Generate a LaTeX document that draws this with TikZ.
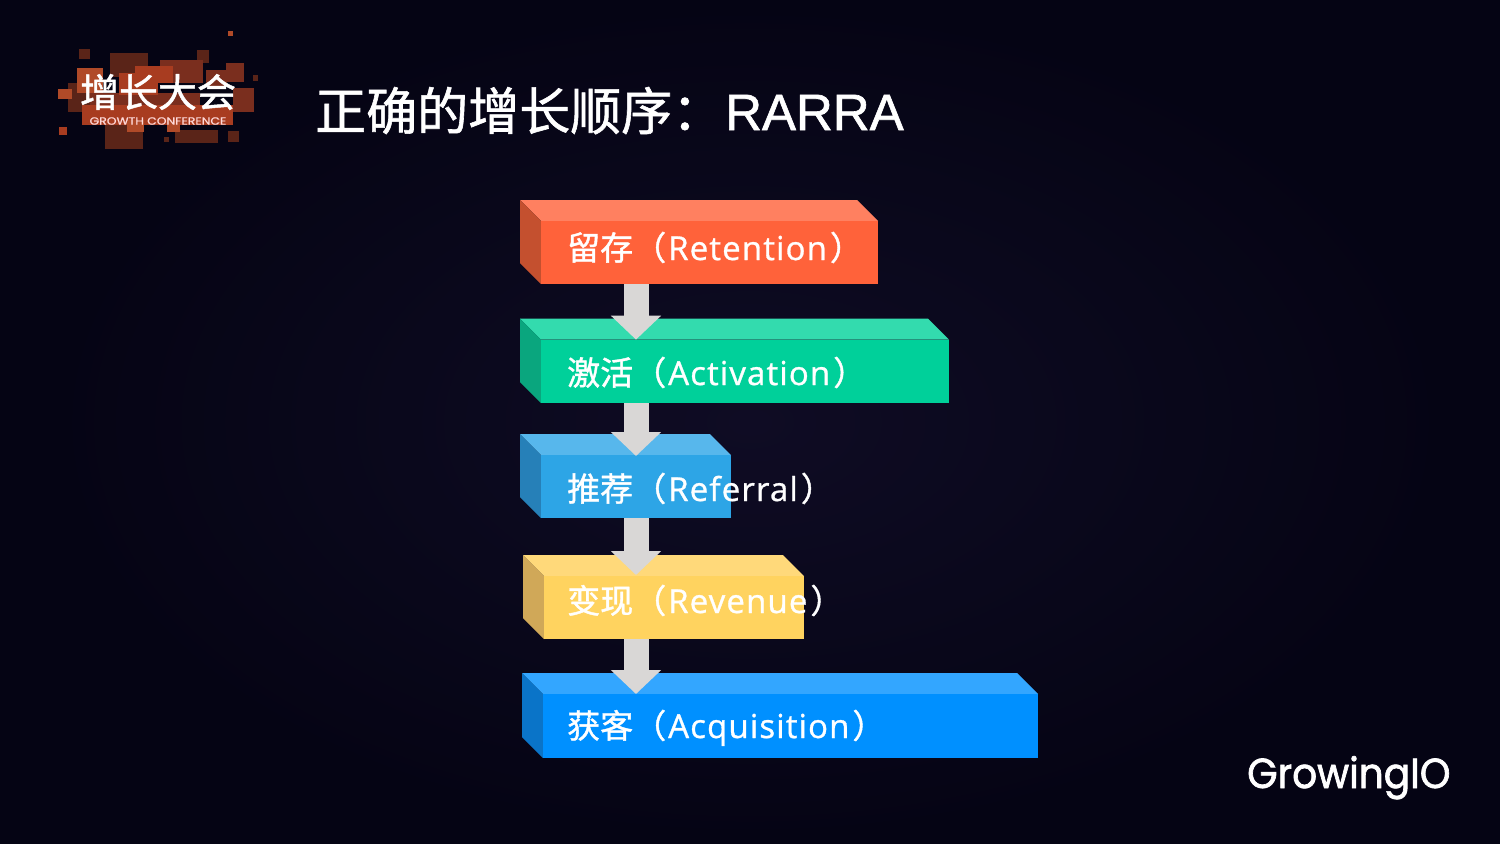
\documentclass[tikz,border=0pt]{standalone}
\usepackage{fontspec}
\setmainfont{Noto Sans CJK SC}
\newfontfamily\cjkmed[FakeBold=1.2]{Noto Sans CJK SC}
\newfontfamily\latinlabel[FakeBold=0.9,LetterSpace=3.5]{Open Sans}
\newfontfamily\latintitle[FakeBold=1.2]{Liberation Sans}
\newfontfamily\brandfont[FakeBold=1.6,FakeStretch=0.93]{Poppins}
\newfontfamily\logofont[FakeBold=1,FakeStretch=1.18]{Poppins}
\newcommand{\steplabel}[2]{{\cjkmed #1（}\hspace{2pt}{\latinlabel #2}\hspace{3pt}{\cjkmed ）}}
\usetikzlibrary{arrows.meta}
\definecolor{bgout}{HTML}{050414}
\definecolor{bgin}{HTML}{0F0C24}
\definecolor{arrowgrey}{HTML}{D9D7D6}
\definecolor{fa}{HTML}{FF623A}\definecolor{ta}{HTML}{FF8060}\definecolor{sa}{HTML}{C4502F}
\definecolor{fb}{HTML}{00D09A}\definecolor{tb}{HTML}{33DBAE}\definecolor{sb}{HTML}{0AA67E}
\definecolor{fc}{HTML}{2DA5E6}\definecolor{tc}{HTML}{57B7EC}\definecolor{sc}{HTML}{2680B8}
\definecolor{fd}{HTML}{FFD35F}\definecolor{td}{HTML}{FFD97A}\definecolor{sd}{HTML}{D0A858}
\definecolor{fe}{HTML}{0090FF}\definecolor{te}{HTML}{33A6FF}\definecolor{se}{HTML}{0A74C8}
\definecolor{la}{HTML}{B04A28}\definecolor{lb}{HTML}{5A2418}\definecolor{lc}{HTML}{7A2E1E}\definecolor{ld}{HTML}{A83C20}
\tikzset{
  face/.style={anchor=north west,inner sep=0pt,outer sep=0pt},
  label/.style={anchor=base west,inner sep=0pt,text=white,font=\fontsize{33}{33}\selectfont},
  flow/.style={draw=arrowgrey,line width=25pt,-{Triangle[width=49pt,length=24pt,fill=arrowgrey]}},
}
% name, x0, y0, x1, y1, face, top, side
\newcommand{\stepblock}[8]{%
  \fill[#7] (#2,#3) -- (#4-21,#3) -- (#4,#3+21) -- (#2+21,#3+21) -- cycle;
  \fill[#8] (#2,#3) -- (#2+21,#3+21) -- (#2+21,#5) -- (#2,#5-21) -- cycle;
  \node[face,fill=#6,minimum width={(#4-#2-21)*1pt},minimum height={(#5-#3-21)*1pt}] (#1) at (#2+21,#3+21) {};
}
\newcommand{\lr}[5]{\fill[#5] (#1,#2) rectangle (#3,#4);}
\begin{document}
\begin{tikzpicture}[x=1pt,y=-1pt]
\useasboundingbox (0,0) rectangle (1500,844);
\fill[bgout] (0,0) rectangle (1500,844);
\shade[inner color=bgin,outer color=bgout] (750,422) ellipse (700 and 420);
% logo
\lr{228}{31}{233}{36}{la}
\lr{79}{49}{90}{59}{lb}
\lr{110}{53}{148}{77}{lb}
\lr{197}{50}{209}{63}{lb}
\lr{160}{60}{203}{83}{lc}
\lr{226}{63}{244}{82}{lc}
\lr{206}{70}{227}{87}{lc}
\lr{253}{75}{258}{81}{lb}
\lr{68}{83}{90}{112}{lb}
\lr{233}{88}{254}{112}{lc}
\lr{105}{125}{143}{149}{lb}
\lr{175}{130}{218}{143}{lb}
\lr{228}{131}{239}{142}{lb}
\lr{164}{137}{169}{142}{lb}
\lr{59}{127}{67}{135}{ld}
\lr{135}{66}{173}{83}{ld}
\lr{77}{68}{103}{93}{la}
\lr{58}{89}{72}{99}{la}
\lr{90}{93}{200}{110}{lc}
\lr{119}{73}{158}{95}{ld}
\lr{82}{105}{233}{125}{ld}
\lr{127}{120}{144}{132}{la}
\lr{167}{120}{180}{132}{la}
\node[anchor=center,inner sep=0pt,text=white,font=\cjkmed\fontsize{39}{39}\selectfont] (logocn) at (158,92) {增长大会};
\node[anchor=center,inner sep=0pt,text=white!85!red,font=\logofont\fontsize{10.5}{11}\selectfont] (logoen) at (158,121) {GROWTH CONFERENCE};
% title
\node[anchor=base west,inner sep=0pt,text=white,font=\fontsize{51}{51}\selectfont] (title) at (315,130) {\cjkmed 正确的增长顺序：\hspace{2pt}\latintitle RARRA};
% blocks
\stepblock{f1}{520}{200}{878}{284}{fa}{ta}{sa}
\stepblock{f2}{520}{318.6}{949}{403}{fb}{tb}{sb}
\stepblock{f3}{520}{434}{731}{518}{fc}{tc}{sc}
\stepblock{f4}{523}{555}{804}{639}{fd}{td}{sd}
\stepblock{f5}{522}{673}{1038}{758}{fe}{te}{se}
\node[label] (l1) at (567,260) {\steplabel{留存}{Retention}};
\node[label] (l2) at (567,385) {\steplabel{激活}{Activation}};
\node[label] (l3) at (567,501) {\steplabel{推荐}{Referral}};
\node[label] (l4) at (567,613) {\steplabel{变现}{Revenue}};
\node[label] (l5) at (567,738) {\steplabel{获客}{Acquisition}};
% connectors
\coordinate (ax) at (636,0);
\draw[flow] (f1.south -| ax) -- (f2.north -| ax);
\draw[flow] (f2.south -| ax) -- ([yshift=-1pt]f3.north -| ax);
\draw[flow] (f3.south -| ax) -- ([yshift=1pt]f4.north -| ax);
\draw[flow] (f4.south -| ax) -- (f5.north -| ax);
% brand
\node[anchor=base west,inner sep=0pt,text=white,font=\brandfont\fontsize{42}{42}\selectfont] (brand) at (1247,788) {GrowingIO};
\end{tikzpicture}
\end{document}
